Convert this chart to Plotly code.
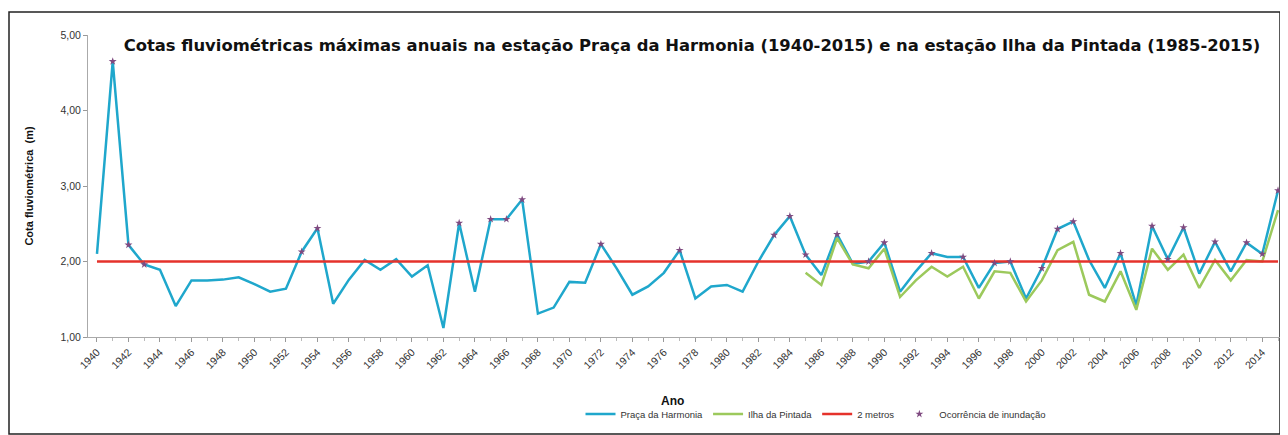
import plotly.graph_objects as go

years = list(range(1940, 2016))
praca_harmonia = [2.10, 4.65, 2.22, 1.96, 1.89, 1.41, 1.75, 1.75, 1.76, 1.79,
                  1.70, 1.60, 1.64, 2.13, 2.44, 1.44, 1.76, 2.02, 1.89, 2.03,
                  1.80, 1.95, 1.12, 2.51, 1.60, 2.56, 2.56, 2.82, 1.31, 1.39,
                  1.73, 1.72, 2.23, 1.91, 1.56, 1.67, 1.85, 2.15, 1.51, 1.67,
                  1.69, 1.60, 2.00, 2.35, 2.60, 2.09, 1.82, 2.36, 1.97, 2.00,
                  2.25, 1.60, 1.87, 2.11, 2.06, 2.06, 1.65, 1.98, 2.00, 1.51,
                  1.91, 2.43, 2.53, 2.02, 1.65, 2.11, 1.42, 2.47, 2.03, 2.45,
                  1.84, 2.26, 1.87, 2.25, 2.10, 2.94]
years_pintada = list(range(1985, 2016))
ilha_pintada = [1.85, 1.69, 2.31, 1.96, 1.91, 2.17, 1.53, 1.75, 1.93, 1.80,
                1.93, 1.51, 1.87, 1.85, 1.47, 1.75, 2.15, 2.26, 1.56, 1.47,
                1.87, 1.36, 2.17, 1.89, 2.09, 1.65, 2.02, 1.75, 2.02, 2.00,
                2.68]
flood_years = [1941, 1942, 1943, 1953, 1954, 1963, 1965, 1966, 1967, 1972,
               1977, 1983, 1984, 1985, 1987, 1989, 1990, 1993, 1995, 1997,
               1998, 2000, 2001, 2002, 2005, 2007, 2008, 2009, 2011, 2013,
               2014, 2015]
threshold = 2.0
x_ticks = list(range(1940, 2016, 2))

lookup = dict(zip(years, praca_harmonia))
flood_vals = [lookup[y] for y in flood_years]

# page body has an 8px margin: figure origin sits at (8, 8) of the window
OFF = 8
W, H = 1280, 427
L, R, T, B = 80, 4, 27, 98
pw, ph = W - L - R, H - T - B


def px(x_ref):
    return (x_ref - OFF - L) / pw


def py(y_ref):
    return (H - B - (y_ref - OFF)) / ph


FONT = "Liberation Sans, Arial, sans-serif"

fig = go.Figure()
fig.add_trace(go.Scatter(x=years, y=praca_harmonia, mode="lines",
                         name="Praça da Harmonia",
                         line=dict(color="#1fa7cc", width=2.5)))
fig.add_trace(go.Scatter(x=years_pintada, y=ilha_pintada, mode="lines",
                         name="Ilha da Pintada",
                         line=dict(color="#9cc95c", width=2.5)))
fig.add_trace(go.Scatter(x=[years[0], years[-1]], y=[threshold, threshold],
                         mode="lines", name="2 metros",
                         line=dict(color="#e5322b", width=2.5)))
fig.add_trace(go.Scatter(x=flood_years, y=flood_vals, mode="markers",
                         name="Ocorrência de inundação",
                         marker=dict(symbol="star", size=6, color="#7f4a80")))

fig.update_layout(
    width=W, height=H,
    margin=dict(l=L, r=R, t=T, b=B, autoexpand=False),
    paper_bgcolor="white", plot_bgcolor="white",
    separators=",.",
    font=dict(family=FONT, color="#222", size=10),
    title=dict(text="<b>Cotas fluviométricas máximas anuais na estação Praça da Harmonia (1940-2015) e na estação Ilha da Pintada (1985-2015)</b>",
               x=px(692), xanchor="center", xref="paper",
               y=1 - (45 - OFF) / H, yanchor="middle",
               font=dict(size=16.4, color="#111",
                         family="DejaVu Sans, Liberation Sans, sans-serif")),
    xaxis=dict(range=[1939.43, 2015.38], tickmode="array", tickvals=x_ticks,
               ticktext=[str(v) for v in x_ticks], tickangle=-45,
               ticks="outside", ticklen=4, tickcolor="#999",
               minor=dict(dtick=1, ticks="outside", ticklen=3, tickcolor="#bbb"),
               showline=True, linecolor="#aaa", linewidth=1,
               showgrid=False, zeroline=False,
               tickfont=dict(size=10.5, color="#333")),
    yaxis=dict(range=[1, 5], dtick=1, tickformat=".2f",
               ticks="outside", ticklen=4, tickcolor="#999",
               showline=True, linecolor="#aaa", linewidth=1,
               showgrid=False, zeroline=False,
               tickfont=dict(size=10.5, color="#333"),
               title=dict(text="<b>Cota fluviométrica  (m)</b>",
                          font=dict(size=11, color="#111"), standoff=24)),
    legend=dict(orientation="h", x=px(816), xanchor="center",
                y=py(414), yanchor="middle",
                font=dict(size=9.5, color="#333"),
                bgcolor="rgba(0,0,0,0)", itemwidth=30,
                tracegroupgap=0),
    showlegend=True,
    annotations=[dict(text="<b>Ano</b>", xref="paper", yref="paper",
                      x=px(672), y=py(401), xanchor="center", yanchor="middle",
                      showarrow=False, font=dict(size=12, color="#111"))],
    shapes=[dict(type="rect", xref="paper", yref="paper",
                 x0=px(9), x1=px(1280), y0=py(434), y1=py(12),
                 line=dict(color="#222", width=1.5), layer="below")],
)

fig.write_html("out.html")
